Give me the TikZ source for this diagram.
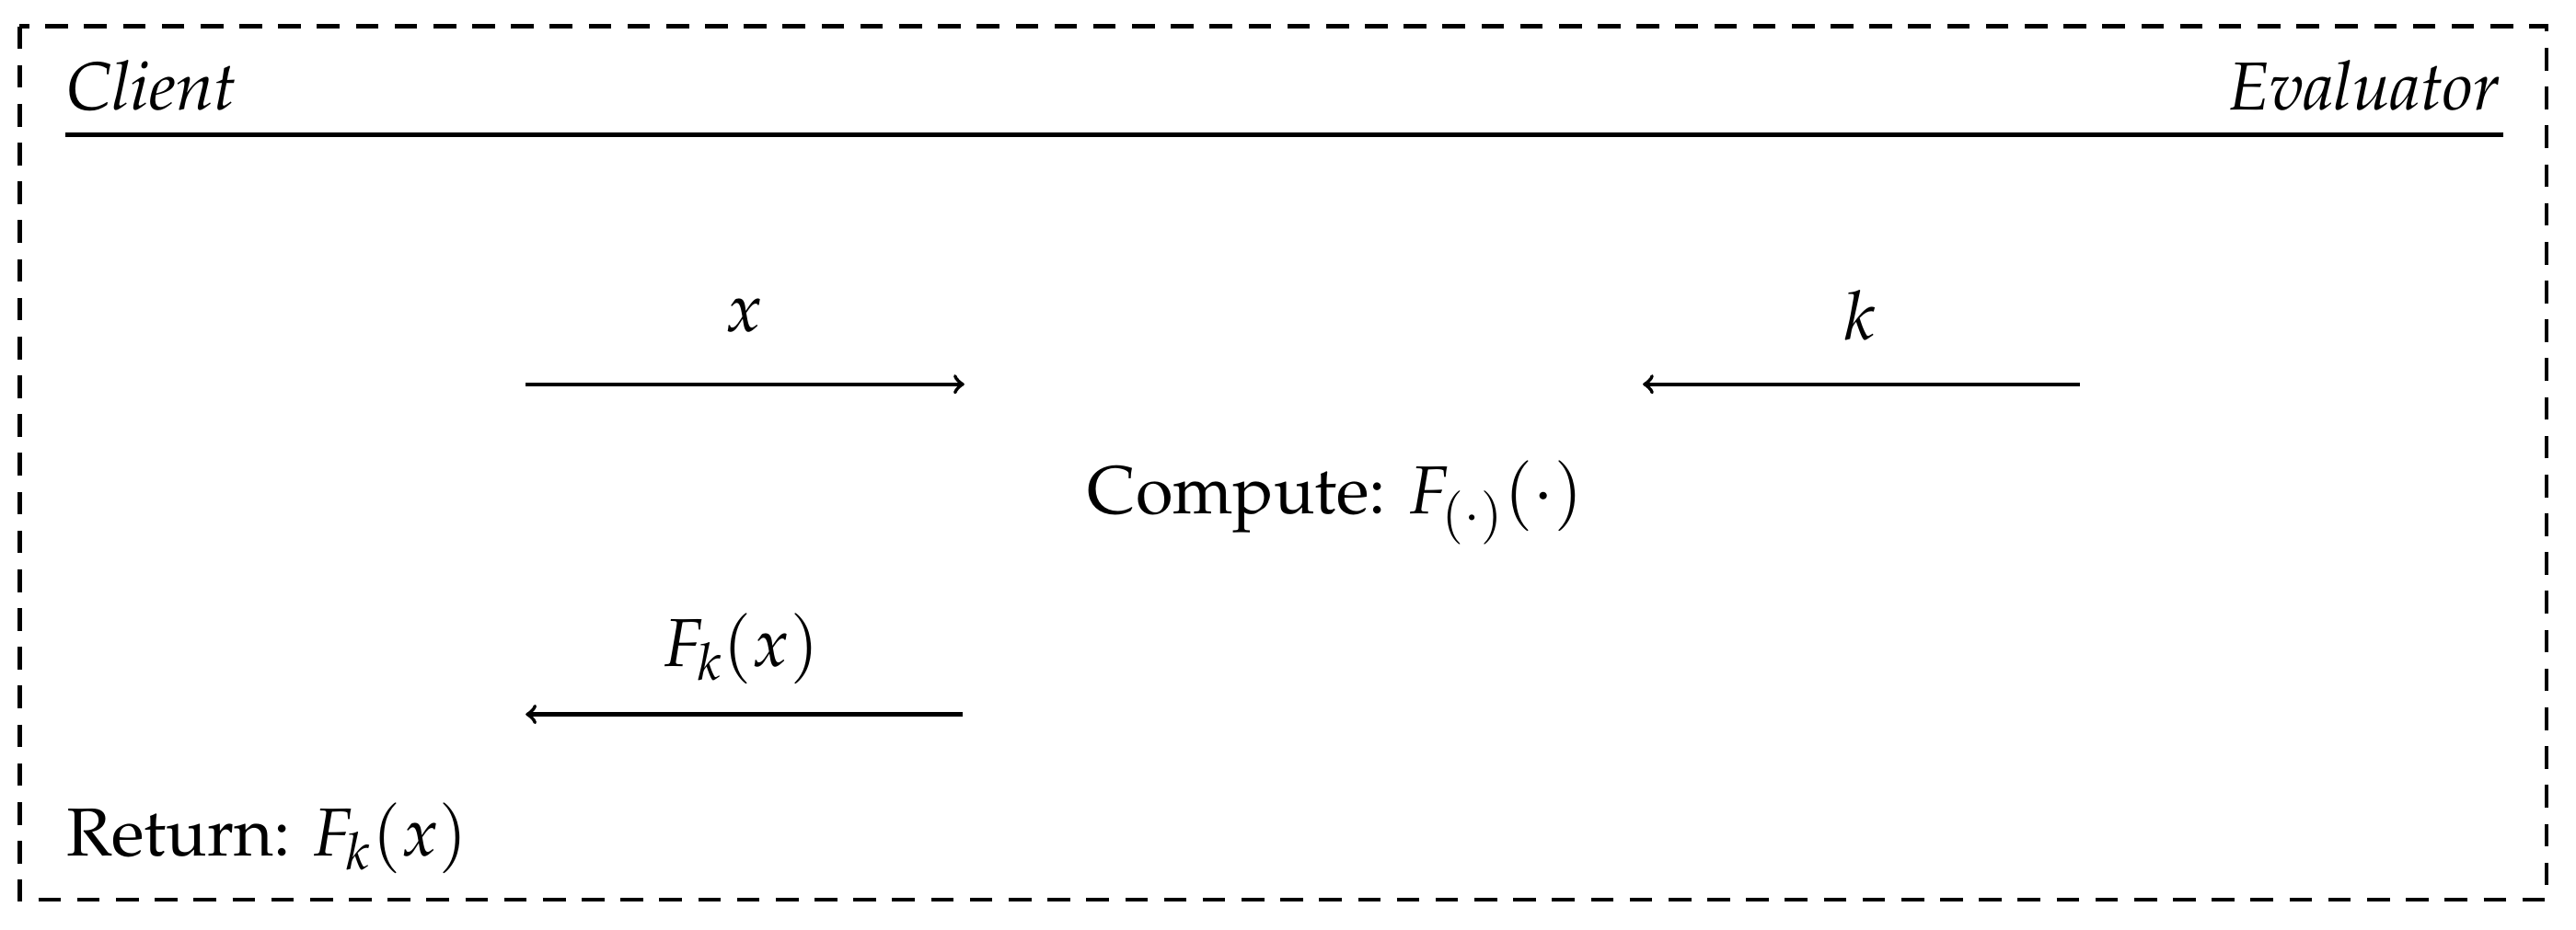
\documentclass[tikz,border=0pt]{standalone}
\usepackage[T1]{fontenc}
\usepackage{mathpazo}
\begin{document}
\begin{tikzpicture}[x=0.01786cm,y=-0.01786cm,
  txt/.style={font=\fontsize{21}{25}\selectfont,inner sep=0pt},
  msg/.style={->,line width=1.2pt}]
\useasboundingbox (0,0) rectangle (1568,566);
\draw[line width=1.2pt,dash pattern=on 7pt off 5pt] (12,16) rectangle (1550,548);
\node[txt,anchor=base west] (cl) at (40,67) {\textit{Client}};
\node[txt,anchor=base east] (ev) at (1522,67) {\textit{Evaluator}};
\coordinate (l1) at (40,82); \coordinate (l2) at (1524,82);
\draw[line width=1.4pt] (l1) -- (l2);
\coordinate (a1) at (320,234); \coordinate (a2) at (587,234);
\draw[msg] (a1) -- (a2);
\node[txt] (lx) at (453,192) {$x$};
\coordinate (b1) at (1266,234); \coordinate (b2) at (1000,234);
\draw[msg] (b1) -- (b2);
\node[txt] (lk) at (1132,192) {$k$};
\node[txt] (comp) at (813,306) {Compute: $F_{(\cdot)}(\cdot)$};
\coordinate (c1) at (586,435); \coordinate (c2) at (320,435);
\draw[msg] (c1) -- (c2);
\node[txt] (lf) at (451,395) {$F_k(x)$};
\node[txt,anchor=base west] (ret) at (40,521) {Return: $F_k(x)$};
\end{tikzpicture}
\end{document}
